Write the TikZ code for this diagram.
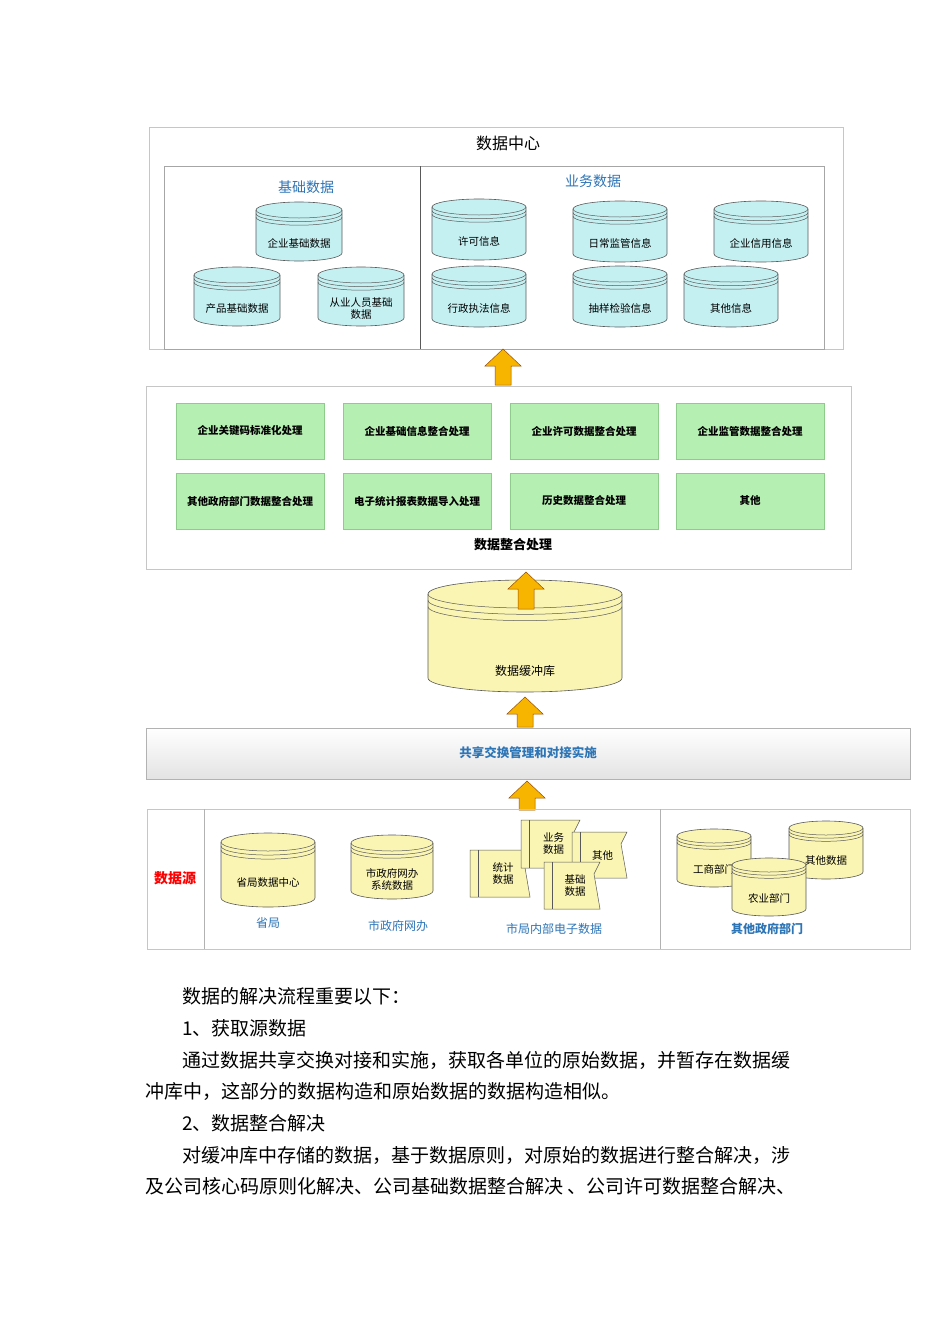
\documentclass[tikz,border=0pt]{standalone}
\usepackage{fontspec}
\setmainfont{Noto Sans CJK SC}
\definecolor{cyanf}{HTML}{C4F0F2}
\definecolor{yelf}{HTML}{FBF5B4}
\definecolor{grnf}{HTML}{B6EFB2}
\definecolor{grne}{HTML}{8FCB8A}
\definecolor{blu}{HTML}{2E75B6}
\definecolor{orf}{HTML}{F7B500}
\newcommand\dbc[8]{%
\pgfmathsetmacro\hw{#4/2}%
\path[fill=#6,draw=gray!70!black,line width=0.6pt] (#2-\hw,#3) -- (#2-\hw,#3+#5) arc[start angle=180,end angle=360,x radius=\hw pt,y radius=#8 pt] -- (#2+\hw,#3) arc[start angle=0,end angle=180,x radius=\hw pt,y radius=#8 pt] -- cycle;
\foreach \k in {0,0.45,0.9}{\draw[gray!70!black,line width=0.5pt] (#2-\hw,#3+\k*#8) arc[start angle=180,end angle=360,x radius=\hw pt,y radius=#8 pt];}
\node[dbtext] (#1) at (#2,#3+#5/2+#8+4) {#7};}
\newcommand\upar[4]{% name, cx, tip y, bottom y
\draw[draw=orange!60!black,fill=orf,line width=0.5pt] (#2,#3) -- (#2+18,#3+17) -- (#2+8,#3+17) -- (#2+8,#4) -- (#2-8,#4) -- (#2-8,#3+17) -- (#2-18,#3+17) -- cycle;
\coordinate (#1) at (#2,#3);}
\newcommand\docs[6]{% name x1 y1 x2 y2 text
\draw[fill=yelf,draw=gray!70!black,line width=0.5pt] (#2,#3) -- (#4,#3) -- (#4-6,#3+12) -- (#4,#5) -- (#2,#5) -- cycle;
\draw[gray!70!black,line width=0.5pt] (#2+8,#3) -- (#2+8,#5);
\node[dbtext,align=center] (#1) at ({(#2+#4)/2+3},{(#3+#5)/2}) {#6};}
\tikzset{dbtext/.style={font=\fontsize{10.5}{12}\selectfont,align=center,inner sep=1pt},
frame/.style={draw=gray!45,line width=0.8pt},
gbox/.style={draw=grne,fill=grnf,minimum width=148pt,minimum height=56pt,font=\fontsize{10.5}{12}\selectfont\bfseries,inner sep=0pt},
body/.style={font=\fontsize{19}{22}\selectfont,anchor=west,inner sep=0pt}}
\begin{document}
\begin{tikzpicture}[x=1pt,y=-1pt]
\useasboundingbox[fill=white] (0,0) rectangle (950,1344);
% data center
\draw[frame] (149,127) rectangle (843,349);
\draw[frame,draw=gray!70] (164,166) rectangle (824,349);
\draw[gray!70!black,line width=0.6pt] (420,166) -- (420,349);
\node[font=\fontsize{16}{18}\selectfont] (dc) at (508,143) {数据中心};
\node[font=\fontsize{14}{16}\selectfont,text=blu] (jc) at (306,187) {基础数据};
\node[font=\fontsize{14}{16}\selectfont,text=blu] (yw) at (593,181) {业务数据};
\dbc{c1}{299}{210}{86}{43}{cyanf}{企业基础数据}{8}
\dbc{c2}{237}{275}{86}{43}{cyanf}{产品基础数据}{8}
\dbc{c3}{361}{275}{86}{43}{cyanf}{从业人员基础\\数据}{8}
\dbc{c4}{479}{207}{94}{45}{cyanf}{许可信息}{8}
\dbc{c5}{620}{209}{94}{45}{cyanf}{日常监管信息}{8}
\dbc{c6}{761}{209}{94}{45}{cyanf}{企业信用信息}{8}
\dbc{c7}{479}{274}{94}{45}{cyanf}{行政执法信息}{8}
\dbc{c8}{620}{274}{94}{45}{cyanf}{抽样检验信息}{8}
\dbc{c9}{731}{274}{94}{45}{cyanf}{其他信息}{8}
\upar{a1}{503}{349}{385}
% integration
\draw[frame] (146,386) rectangle (851,569);
\node[gbox] (g1) at (250,431) {企业关键码标准化处理};
\node[gbox] (g2) at (417,431) {企业基础信息整合处理};
\node[gbox] (g3) at (584,431) {企业许可数据整合处理};
\node[gbox] (g4) at (750,431) {企业监管数据整合处理};
\node[gbox] (g5) at (250,501) {其他政府部门数据整合处理};
\node[gbox] (g6) at (417,501) {电子统计报表数据导入处理};
\node[gbox] (g7) at (584,501) {历史数据整合处理};
\node[gbox] (g8) at (750,501) {其他};
\node[font=\fontsize{13}{15}\selectfont\bfseries] (zh) at (513,545) {数据整合处理};
\dbc{buf}{525}{594}{194}{84}{yelf}{}{14}
\node[font=\fontsize{12}{14}\selectfont] (bufl) at (525,671) {数据缓冲库};
\upar{a2}{526}{572}{609}
\upar{a3}{525}{697}{727}
\shade[top color=white,bottom color=gray!22,draw=gray!60] (146,728) rectangle (910,779);
\node[font=\fontsize{12.5}{14}\selectfont\bfseries,text=blu] (gx) at (528,753) {共享交换管理和对接实施};
\upar{a4}{527}{781}{810}
% sources
\draw[frame] (147,809) rectangle (910,949);
\draw[gray!60,line width=0.8pt] (204,809) -- (204,949) (660,809) -- (660,949);
\node[font=\fontsize{14}{16}\selectfont\bfseries,text=red] (src) at (175,878) {数据源};
\dbc{s1}{268}{842}{94}{56}{yelf}{省局数据中心}{9}
\dbc{s2}{392}{843}{82}{48}{yelf}{市政府网办\\系统数据}{8}
\docs{d1}{470}{850}{530}{897}{统计\\数据}
\docs{d2}{521}{820}{580}{868}{业务\\数据}
\docs{d3}{572}{832}{627}{878}{其他}
\docs{d4}{544}{862}{600}{909}{基础\\数据}
\dbc{s3}{714}{836}{74}{44}{yelf}{工商部门}{7}
\dbc{s4}{826}{828}{74}{44}{yelf}{其他数据}{7}
\dbc{s5}{769}{865}{74}{44}{yelf}{农业部门}{7}
\node[font=\fontsize{12}{14}\selectfont,text=blu] (l1) at (268,923) {省局};
\node[font=\fontsize{12}{14}\selectfont,text=blu] (l2) at (398,926) {市政府网办};
\node[font=\fontsize{12}{14}\selectfont,text=blu] (l3) at (554,929) {市局内部电子数据};
\node[font=\fontsize{12}{14}\selectfont\bfseries,text=blu] (l4) at (767,929) {其他政府部门};
% body text
\node[body] (t1) at (182,996) {数据的解决流程重要以下：};
\node[body] (t2) at (182,1028) {1、获取源数据};
\node[body] (t3) at (182,1060) {通过数据共享交换对接和实施，获取各单位的原始数据，并暂存在数据缓};
\node[body] (t4) at (145,1091) {冲库中，这部分的数据构造和原始数据的数据构造相似。};
\node[body] (t5) at (182,1123) {2、数据整合解决};
\node[body] (t6) at (182,1155) {对缓冲库中存储的数据，基于数据原则，对原始的数据进行整合解决，涉};
\node[body] (t7) at (145,1186) {及公司核心码原则化解决、公司基础数据整合解决 、公司许可数据整合解决、};
\end{tikzpicture}
\end{document}
